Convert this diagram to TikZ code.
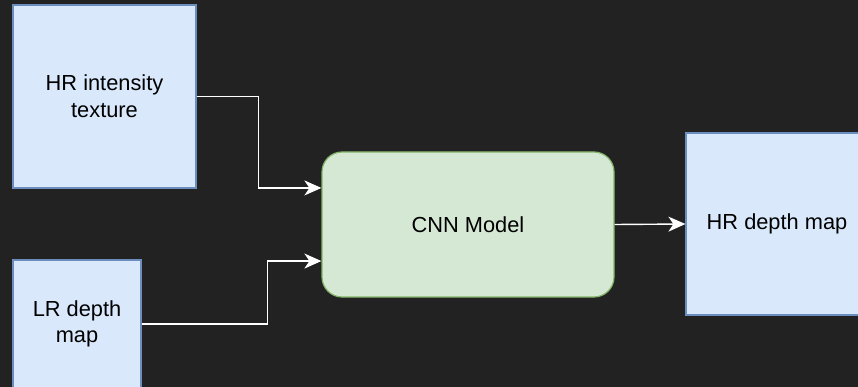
\documentclass[tikz,border=0pt]{standalone}
\usepackage{fontspec}
\setmainfont{Liberation Sans}
\usetikzlibrary{arrows.meta,calc}

\definecolor{bgdark}{HTML}{222222}
\definecolor{bluefill}{HTML}{DAE8FC}
\definecolor{blueline}{HTML}{6C8EBF}
\definecolor{greenfill}{HTML}{D5E8D4}
\definecolor{greenline}{HTML}{82B366}

\tikzset{
  datanode/.style={draw=blueline, fill=bluefill, line width=1.2pt,
    align=center, inner sep=0pt},
  modelnode/.style={draw=greenline, fill=greenfill, line width=1.2pt,
    rounded corners=20pt, minimum width=292pt, minimum height=145pt,
    align=center, inner sep=0pt},
  flow/.style={draw=white, line width=1.4pt,
    -{Stealth[length=17pt, width=15pt, inset=5pt]}},
}

\begin{document}
\begin{tikzpicture}[x=1pt, y=-1pt,
  every node/.style={font=\fontsize{21.8}{26.7}\selectfont, text=black}]
  \useasboundingbox (0,0) rectangle (858,387);
  \fill[bgdark] (0,0) rectangle (858,387);
  \clip (0,0) rectangle (858,387);

  % inputs, model and output
  \node[datanode, minimum width=183pt, minimum height=183pt]
    (hrtex) at (104.5,96.5) {HR intensity\\texture};
  \node[datanode, minimum width=128pt, minimum height=128pt]
    (lrdepth) at (77,324) {LR depth\\map};
  \node[modelnode] (cnn) at (468,224.5) {CNN Model};
  \node[datanode, minimum width=182pt, minimum height=182pt]
    (hrdepth) at (777,224) {HR depth map};

  % entry points on the model's left side
  \coordinate (in1) at ($(cnn.north west)!0.25!(cnn.south west)$);
  \coordinate (in2) at ($(cnn.north west)!0.75!(cnn.south west)$);

  % connectors
  \draw[flow] (hrtex.east) -| ([xshift=-63pt]in1) -- (in1);
  \draw[flow] (lrdepth.east) -| ([xshift=-54pt]in2) -- (in2);
  \draw[flow] (cnn.east) -- (hrdepth.west);
\end{tikzpicture}
\end{document}
